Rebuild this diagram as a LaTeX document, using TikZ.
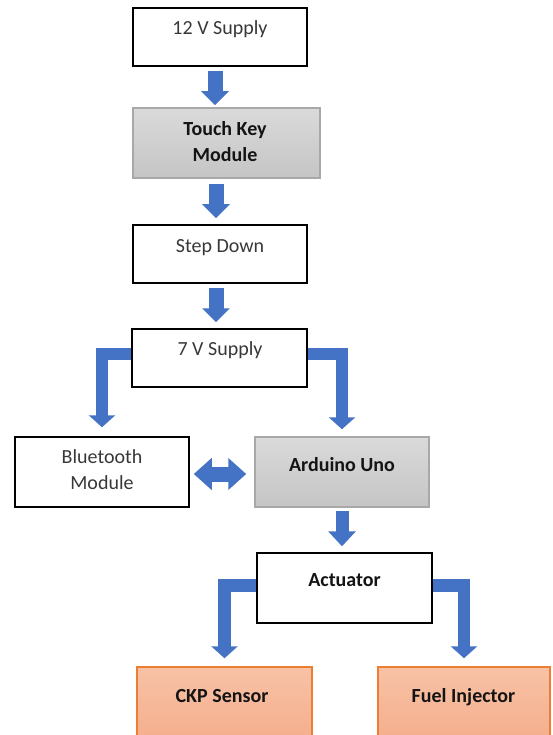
\documentclass[tikz,border=0pt]{standalone}
\usepackage{fontspec}
\setmainfont{Carlito}
\usetikzlibrary{arrows.meta}
\definecolor{arrowblue}{HTML}{4472C4}
\definecolor{orangeborder}{HTML}{ED7D31}
\definecolor{orangetop}{HTML}{F8C2A6}
\definecolor{orangebot}{HTML}{F4AC8A}
\definecolor{graytop}{HTML}{DADADA}
\definecolor{graybot}{HTML}{C5C5C5}
\definecolor{grayborder}{HTML}{A8A8A8}
\begin{document}
\begin{tikzpicture}[x=1pt,y=-1pt,
  wbox/.style={draw=black, line width=1.5pt, fill=white, inner sep=0pt},
  gbox/.style={draw=grayborder, line width=1.5pt, top color=graytop, bottom color=graybot, inner sep=0pt},
  obox/.style={draw=orangeborder, line width=1.5pt, top color=orangetop, bottom color=orangebot, inner sep=0pt},
  lbl/.style={font=\fontsize{20}{26}\selectfont, text=black!78, anchor=base, inner sep=0pt, align=center},
  blbl/.style={font=\fontsize{20}{26}\selectfont\bfseries, text=black!92, anchor=base, inner sep=0pt, align=center},
  fat/.style={draw=arrowblue, line width=15pt, -{Triangle[width=27pt,length=14pt]}},
  elbow/.style={draw=arrowblue, line width=12.5pt, line join=miter, -{Triangle[width=26pt,length=12pt]}},
  twoway/.style={draw=arrowblue, line width=15pt, {Triangle[width=31pt,length=18pt]}-{Triangle[width=31pt,length=18pt]}}
]
\useasboundingbox (0,0) rectangle (552,735);
\fill[white] (0,0) rectangle (552,735);
\clip (0,0) rectangle (552,735);

% boxes
\node[wbox, minimum width=174pt, minimum height=58pt] (s12) at (220,37) {};
\node[gbox, minimum width=187pt, minimum height=70pt] (tk) at (226.5,143) {};
\node[wbox, minimum width=174pt, minimum height=58pt] (sd) at (220,254) {};
\node[wbox, minimum width=175pt, minimum height=58pt] (s7) at (219.5,358) {};
\node[wbox, minimum width=174pt, minimum height=70pt] (bt) at (102,472) {};
\node[gbox, minimum width=174pt, minimum height=70pt] (ard) at (342,472) {};
\node[wbox, minimum width=175pt, minimum height=70pt] (act) at (344.5,588) {};
\node[obox, minimum width=175pt, minimum height=80pt] (ckp) at (224.5,707) {};
\node[obox, minimum width=172pt, minimum height=80pt] (fuel) at (464,707) {};

% labels (base anchor = baseline of last line)
\node[lbl] at (220,35) {12 V Supply};
\node[blbl] at (225,162) {Touch Key\\Module};
\node[lbl] at (220,252) {Step Down};
\node[lbl] at (220,355) {7 V Supply};
\node[lbl] at (102,489) {Bluetooth\\Module};
\node[blbl] at (342,471) {Arduino Uno};
\node[blbl] at (344.5,586) {Actuator};
\node[blbl] at (222,702) {CKP Sensor};
\node[blbl] at (463.5,702) {Fuel Injector};

% straight arrows
\draw[fat, shorten <=4pt, shorten >=2pt] ([xshift=-5pt]s12.south) -- ([xshift=-5pt]s12.south |- tk.north);
\draw[fat, shorten <=5pt, shorten >=6pt] ([xshift=-4pt]tk.south -| sd.south) -- ([xshift=-4pt]sd.north);
\draw[fat, shorten <=4pt, shorten >=6pt] ([xshift=-4pt]sd.south) -- ([xshift=-4pt]sd.south |- s7.north);
\draw[fat, line width=13pt, -{Triangle[width=27pt,length=15pt]}, shorten <=3pt, shorten >=6pt] (ard.south) -- (ard.south |- act.north);

% elbow arrows
\draw[elbow, shorten >=9pt] ([yshift=4pt]s7.west) -| (bt.north);
\draw[elbow, shorten >=7pt] ([yshift=4pt]s7.east) -| (ard.north);
\draw[elbow, shorten >=8pt] ([yshift=2.5pt]act.west) -| (ckp.north);
\draw[elbow, shorten >=8pt] ([yshift=2.5pt]act.east) -| (fuel.north);

% two-way arrow
\draw[twoway, shorten <=4pt, shorten >=8pt] ([yshift=-2pt]bt.east) -- ([yshift=-2pt]bt.east -| ard.west);
\end{tikzpicture}
\end{document}
